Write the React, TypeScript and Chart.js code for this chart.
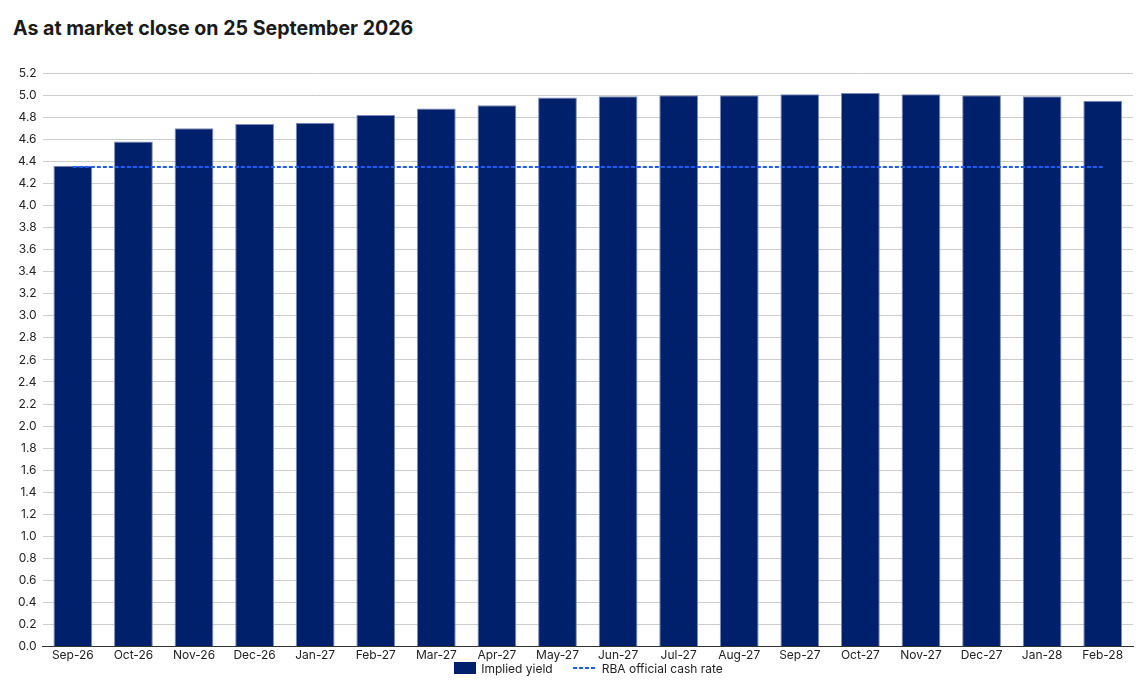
import { useEffect, useRef } from 'react'
import { Chart, registerables } from 'chart.js'

Chart.register(...registerables)

const months = [
  'Sep-26', 'Oct-26', 'Nov-26', 'Dec-26', 'Jan-27', 'Feb-27', 'Mar-27', 'Apr-27', 'May-27',
  'Jun-27', 'Jul-27', 'Aug-27', 'Sep-27', 'Oct-27', 'Nov-27', 'Dec-27', 'Jan-28', 'Feb-28',
]
const impliedYield = [
  4.36, 4.58, 4.70, 4.74, 4.75, 4.82, 4.88, 4.91, 4.98,
  4.99, 5.0, 5.0, 5.01, 5.02, 5.01, 5.0, 4.99, 4.95,
]
const cashRate = months.map(() => 4.35)
const seriesNames = ['Implied yield', 'RBA official cash rate']

const FONT = "Inter, 'Noto Sans', sans-serif"
const NAVY = '#00206c'
const BLUE = '#1f5cf5'

export default function App() {
  const canvasRef = useRef<HTMLCanvasElement>(null)

  useEffect(() => {
    document.body.style.margin = '0'
    if (!canvasRef.current) return
    const ctx = canvasRef.current.getContext('2d')
    if (!ctx) return

    const chart = new Chart(ctx, {
      type: 'bar',
      data: {
        labels: months,
        datasets: [
          {
            type: 'bar',
            label: seriesNames[0],
            data: impliedYield,
            backgroundColor: NAVY,
            borderColor: '#7d8bb5',
            borderWidth: 1,
            categoryPercentage: 0.8,
            barPercentage: 0.8,
            order: 1,
          },
          {
            type: 'line',
            label: seriesNames[1],
            data: cashRate,
            borderColor: BLUE,
            borderWidth: 2,
            borderDash: [4, 2],
            pointRadius: 0,
            fill: false,
            order: 0,
          },
        ],
      },
      options: {
        animation: false,
        responsive: true,
        maintainAspectRatio: false,
        layout: { padding: { left: 12, right: 10, top: 8, bottom: 0 } },
        scales: {
          x: {
            grid: { display: false, drawTicks: false },
            border: { display: true, color: '#333', width: 1 },
            ticks: { color: '#222', font: { family: FONT, size: 12 }, maxRotation: 0, padding: 2 },
          },
          y: {
            min: 0,
            max: 5.2,
            grid: { color: '#cccccc', drawTicks: false },
            border: { display: false },
            ticks: {
              stepSize: 0.2,
              color: '#222',
              padding: 6,
              font: { family: FONT, size: 12 },
              callback: (v) => Number(v).toFixed(1),
            },
          },
        },
        plugins: {
          legend: { display: false },
          tooltip: { enabled: false },
        },
      },
    })

    return () => {
      chart.destroy()
    }
  }, [])

  return (
    <div style={{ position: 'relative', width: 1143, height: 680, overflow: 'hidden', background: '#fff', fontFamily: FONT }}>
      <div style={{ position: 'absolute', left: 13, top: 16, fontSize: 19.6, fontWeight: 700, color: '#1a1a1a' }}>
        As at market close on 25 September 2026
      </div>
      <div style={{ position: 'absolute', left: 0, top: 60, width: 1143, height: 605 }}>
        <canvas ref={canvasRef} />
      </div>
      <div
        style={{
          position: 'absolute', left: 44, width: 1089, top: 661, height: 14,
          display: 'flex', justifyContent: 'center', alignItems: 'center',
          fontSize: 12, color: '#222',
        }}
      >
        <span style={{ display: 'inline-block', width: 22, height: 12, background: NAVY, marginRight: 5 }} />
        <span style={{ marginRight: 20 }}>{seriesNames[0]}</span>
        <svg width={24} height={12} style={{ marginRight: 5 }}>
          <line x1={0} y1={6} x2={24} y2={6} stroke={BLUE} strokeWidth={2} strokeDasharray="4 2" />
        </svg>
        <span>{seriesNames[1]}</span>
      </div>
    </div>
  )
}
